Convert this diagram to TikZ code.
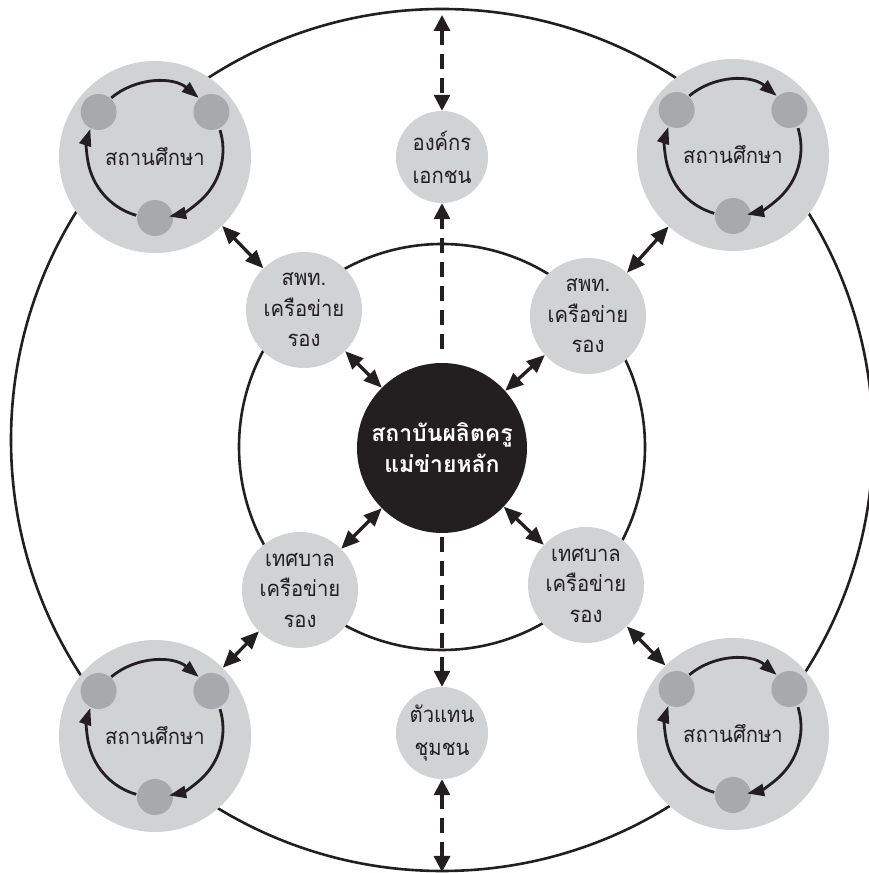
\documentclass[tikz,border=0pt]{standalone}
\usepackage{fontspec}
\newfontfamily\thaifont[Script=Thai,FakeStretch=0.92]{Loma}
\newfontfamily\thaibold[Script=Thai]{Loma}
\usetikzlibrary{arrows.meta}
\definecolor{lgray}{HTML}{D1D2D4}
\definecolor{dgray}{HTML}{A7A9AC}
\definecolor{ink}{HTML}{231F20}
\begin{document}
\begin{tikzpicture}[x=1pt,y=1pt,
  ring/.style={draw=ink, line width=2.6pt},
  bubble/.style={circle, fill=lgray, inner sep=0pt, minimum size=116pt, align=center,
    font=\thaifont\fontsize{22}{30.5}\selectfont, text=ink},
  smallbubble/.style={bubble, minimum size=92pt, font=\thaifont\fontsize{22}{33}\selectfont},
  school/.style={circle, fill=lgray, inner sep=0pt, minimum size=192pt,
    font=\thaifont\fontsize{22}{30}\selectfont, text=ink},
  hubnode/.style={circle, fill=ink, inner sep=0pt, minimum size=170pt, align=center,
    font=\thaibold\bfseries\fontsize{23}{31}\selectfont, text=white},
  dotnode/.style={circle, fill=dgray, inner sep=0pt, minimum size=36pt},
  link/.style={draw=ink, line width=3.3pt,
    {Triangle[length=18pt,width=15pt]}-{Triangle[length=18pt,width=15pt]}},
  cyc/.style={draw=ink, line width=2.8pt, -{Triangle[length=17pt,width=12pt]}},
  dlink/.style={draw=ink, line width=3.2pt, dash pattern=on 15pt off 9pt},
  dtip/.tip={Triangle[length=16pt,width=16pt]}
]
\useasboundingbox (0,0) rectangle (869,873);

% rings
\draw[ring] (442,433) circle[radius=431];
\draw[ring] (442,426) circle[radius=203];

% hub
\node[hubnode] (hub) at (442,425) {สถาบันผลิตครู\\แม่ข่ายหลัก};

% secondary networks
\node[bubble] (n1) at (304,563) {สพท.\\เครือข่าย\\รอง};
\node[bubble] (n2) at (588,557) {สพท.\\เครือข่าย\\รอง};
\node[bubble] (n3) at (300,283) {เทศบาล\\เครือข่าย\\รอง};
\node[bubble] (n4) at (586,288) {เทศบาล\\เครือข่าย\\รอง};

% private org and community
\node[smallbubble] (org) at (442,716) {องค์กร\\เอกชน};
\node[smallbubble] (com) at (442,140) {ตัวแทน\\ชุมชน};

% schools
\foreach \n/\x/\y in {1/155/716, 2/733/718, 3/155/137, 4/733/139}{
  \node[school] (s\n) at (\x,\y) {สถานศึกษา};
  \coordinate (r\n) at (\x,\y+7);
  \node[dotnode] (s\n a) at ([shift={(146:68)}]r\n) {};
  \node[dotnode] (s\n b) at ([shift={(34:68)}]r\n) {};
  \node[dotnode] (s\n c) at ([shift={(270:68)}]r\n) {};
  \draw[cyc] ([shift={(130:68)}]r\n) arc[start angle=130, end angle=50, radius=68];
  \draw[cyc] ([shift={(17:68)}]r\n) arc[start angle=17, end angle=-78, radius=68];
  \draw[cyc] ([shift={(254:68)}]r\n) arc[start angle=254, end angle=162, radius=68];
}

% solid links
\draw[link] (s1) -- (n1);
\draw[link] (s2) -- (n2);
\draw[link] (s3) -- (n3);
\draw[link] (s4) -- (n4);
\draw[link] (n1) -- (hub);
\draw[link] (n2) -- (hub);
\draw[link] (n3) -- (hub);
\draw[link] (n4) -- (hub);

% dashed links
\coordinate (otop) at (442,858);
\coordinate (obot) at (442,1);
\draw[dlink, dtip-dtip] (otop) -- (org.north);
\draw[dlink, shorten <=14pt, -dtip] (hub.north) -- (org.south);
\draw[dlink, shorten <=4pt, -dtip] (hub.south) -- (com.north);
\draw[dlink, dtip-dtip] (com.south) -- (obot);
\end{tikzpicture}
\end{document}
